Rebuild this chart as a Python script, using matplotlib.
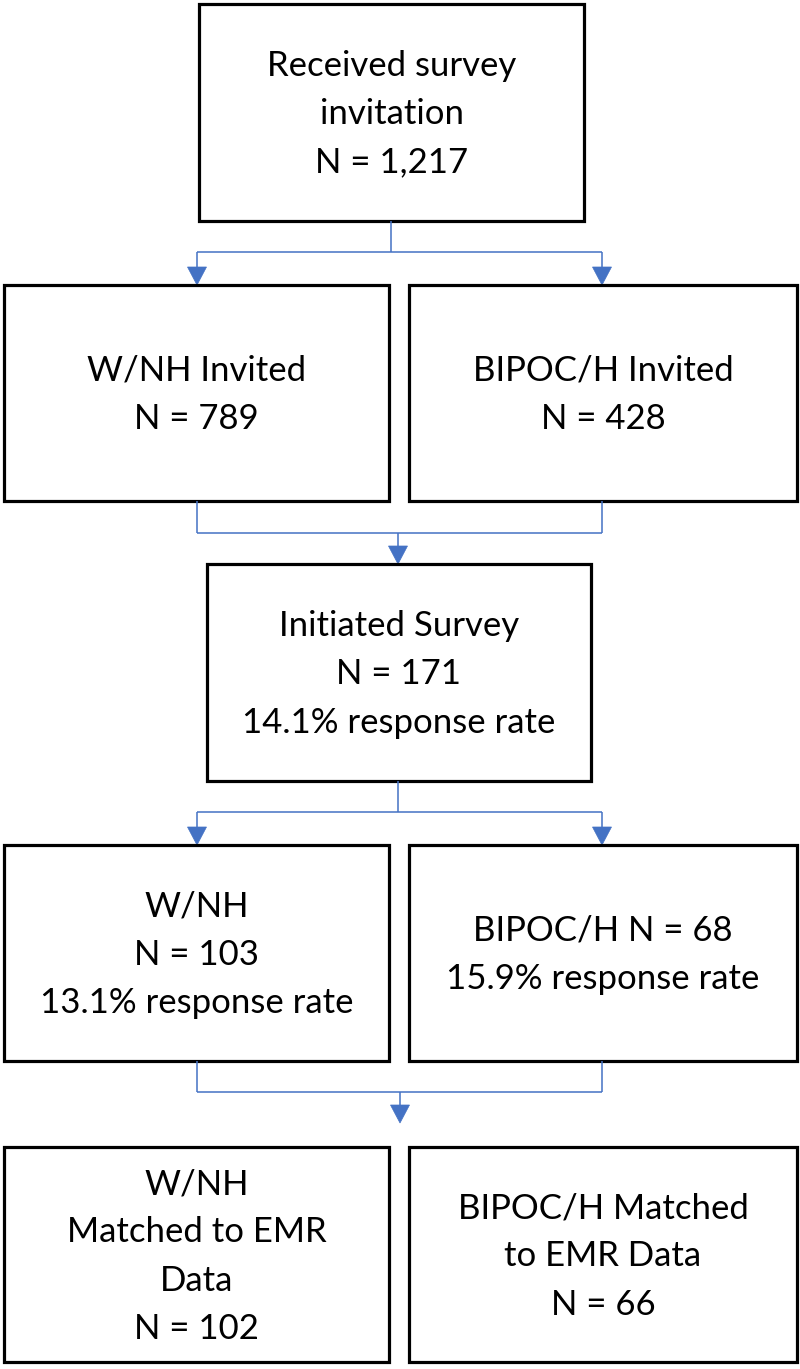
import matplotlib
matplotlib.use("Agg")
import matplotlib.pyplot as plt
from matplotlib.patches import Rectangle, Polygon

# ---- data ----
n_received = "1,217"
groups = ["W/NH", "BIPOC/H"]
n_invited = [789, 428]
n_initiated = 171
rate_initiated = 14.1
n_responded = [103, 68]
rate_responded = [13.1, 15.9]
n_matched = [102, 66]

# ---- labels ----
label_top = f"Received survey\ninvitation\nN = {n_received}"
label_invited = [f"{g} Invited\nN = {n}" for g, n in zip(groups, n_invited)]
label_initiated = f"Initiated Survey\nN = {n_initiated}\n{rate_initiated}% response rate"
label_responded = [f"W/NH\nN = {n_responded[0]}\n{rate_responded[0]}% response rate",
                   f"BIPOC/H N = {n_responded[1]}\n{rate_responded[1]}% response rate"]
label_matched = [f"W/NH\nMatched to EMR\nData\nN = {n_matched[0]}",
                 f"BIPOC/H Matched\nto EMR Data\nN = {n_matched[1]}"]

W, H = 800, 1369
fig = plt.figure(figsize=(W / 100, H / 100), dpi=100)
ax = fig.add_axes([0, 0, 1, 1])
ax.set_xlim(0, W)
ax.set_ylim(H, 0)
ax.axis("off")

FONT = "Lato"
FS = 25
BLUE = "#4472C4"
LW_BOX = 2.3
LW_CON = 1.1


def box(x0, y0, x1, y1, text):
    ax.add_patch(Rectangle((x0, y0), x1 - x0, y1 - y0, fill=False,
                           edgecolor="black", linewidth=LW_BOX, joinstyle="miter"))
    ax.text((x0 + x1) / 2, (y0 + y1) / 2 + 2, text, ha="center", va="center",
            fontsize=FS, family=FONT, linespacing=1.62, color="black")


def line(xs, ys):
    ax.plot(xs, ys, color=BLUE, linewidth=LW_CON, solid_capstyle="butt")


def arrow_down(x, y_from, y_tip, hw=9.5, hl=18):
    line([x, x], [y_from, y_tip - hl])
    ax.add_patch(Polygon([(x - hw, y_tip - hl), (x + hw, y_tip - hl), (x, y_tip)],
                         closed=True, facecolor=BLUE, edgecolor=BLUE, linewidth=0.5))


# column geometry
L = (4, 389)
R = (409, 797)
xl, xr = 197, 602

# row 1
box(199, 4, 584, 221, label_top)
line([391, 391], [221, 252])
line([xl, xr], [252, 252])
arrow_down(xl, 252, 285)
arrow_down(xr, 252, 285)

# row 2
box(L[0], 285, L[1], 501, label_invited[0])
box(R[0], 285, R[1], 501, label_invited[1])
line([xl, xl], [501, 533])
line([xr, xr], [501, 533])
line([xl, xr], [533, 533])
arrow_down(398, 533, 564)

# row 3
box(207, 564, 591, 781, label_initiated)
line([398, 398], [781, 812])
line([xl, xr], [812, 812])
arrow_down(xl, 812, 845)
arrow_down(xr, 812, 845)

# row 4
box(L[0], 845, L[1], 1061, label_responded[0])
box(R[0], 845, R[1], 1061, label_responded[1])
line([xl, xl], [1061, 1092])
line([xr, xr], [1061, 1092])
line([xl, xr], [1092, 1092])
arrow_down(400, 1092, 1123)

# row 5
box(L[0], 1147, L[1], 1362, label_matched[0])
box(R[0], 1147, R[1], 1362, label_matched[1])

fig.savefig("out.png", dpi=100, facecolor="white")
